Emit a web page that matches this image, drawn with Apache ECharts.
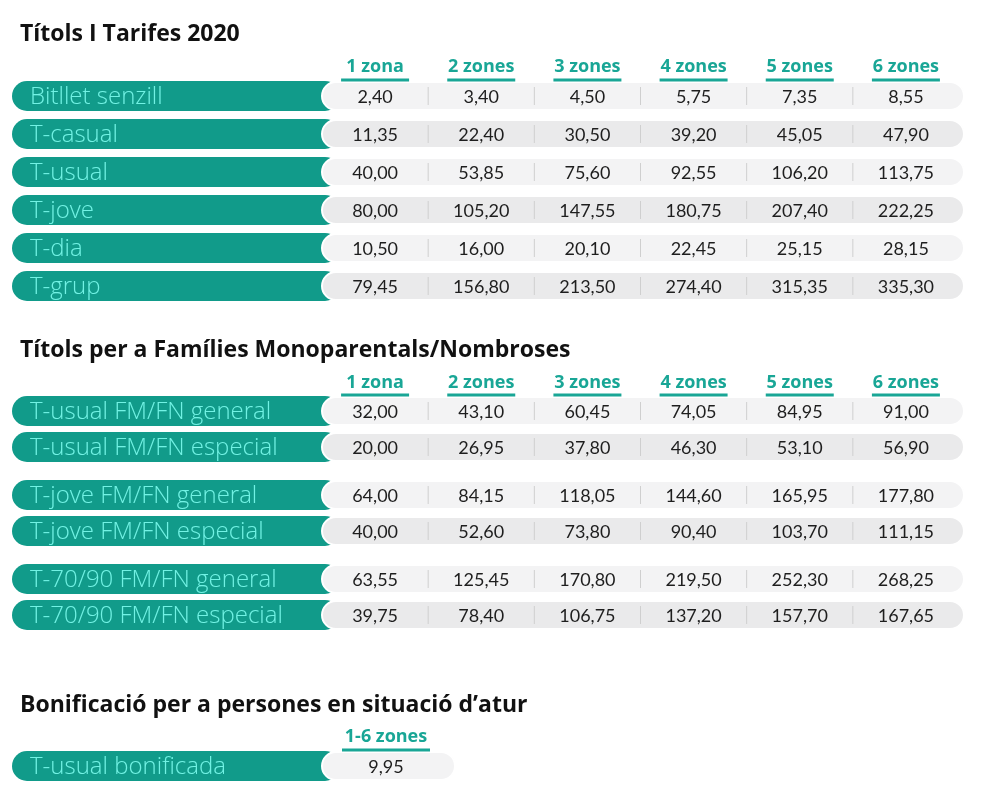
<!DOCTYPE html>
<html><head><meta charset="utf-8">
<script src="https://cdn.jsdelivr.net/npm/echarts@6/dist/echarts.min.js"></script>
<style>html,body{margin:0;padding:0;background:#fff}#c{width:1000px;height:791px}</style>
</head><body><div id="c"></div>
<script>
// ---------- data ----------
const titles = ['Títols I Tarifes 2020', 'Títols per a Famílies Monoparentals/Nombroses', 'Bonificació per a persones en situació d’atur'];
const zones = ['1 zona', '2 zones', '3 zones', '4 zones', '5 zones', '6 zones'];
const zonesBonif = ['1-6 zones'];

const rowsTarifes = ['Bitllet senzill', 'T-casual', 'T-usual', 'T-jove', 'T-dia', 'T-grup'];
const bitlletSenzill = [2.40, 3.40, 4.50, 5.75, 7.35, 8.55];
const tCasual = [11.35, 22.40, 30.50, 39.20, 45.05, 47.90];
const tUsual = [40.00, 53.85, 75.60, 92.55, 106.20, 113.75];
const tJove = [80.00, 105.20, 147.55, 180.75, 207.40, 222.25];
const tDia = [10.50, 16.00, 20.10, 22.45, 25.15, 28.15];
const tGrup = [79.45, 156.80, 213.50, 274.40, 315.35, 335.30];

const rowsUsualFM = ['T-usual FM/FN general', 'T-usual FM/FN especial'];
const usualFMGeneral = [32.00, 43.10, 60.45, 74.05, 84.95, 91.00];
const usualFMEspecial = [20.00, 26.95, 37.80, 46.30, 53.10, 56.90];

const rowsJoveFM = ['T-jove FM/FN general', 'T-jove FM/FN especial'];
const joveFMGeneral = [64.00, 84.15, 118.05, 144.60, 165.95, 177.80];
const joveFMEspecial = [40.00, 52.60, 73.80, 90.40, 103.70, 111.15];

const rows7090FM = ['T-70/90 FM/FN general', 'T-70/90 FM/FN especial'];
const t7090FMGeneral = [63.55, 125.45, 170.80, 219.50, 252.30, 268.25];
const t7090FMEspecial = [39.75, 78.40, 106.75, 137.20, 157.70, 167.65];

const rowsBonif = ['T-usual bonificada'];
const usualBonificada = [9.95];

// ---------- styles / layout ----------
const TEAL = '#119b8a';
const TEAL_HEAD = '#19a696';
const LABEL_COLOR = '#72f2e4';
const GREY_A = '#f3f3f4';
const GREY_B = '#eaeaeb';
const FONT = '"Open Sans", "Noto Sans", sans-serif';
const VFONT = 'Lato, "Noto Sans", sans-serif';

const blocks = [
  { rows: rowsTarifes, values: [bitlletSenzill, tCasual, tUsual, tJove, tDia, tGrup], cols: zones, header: true, uh: 34,
    grid: { left: 322, width: 637, top: 77, height: 228 }, margin: 10 },
  { rows: rowsUsualFM, values: [usualFMGeneral, usualFMEspecial], cols: zones, header: true, uh: 34,
    grid: { left: 322, width: 637, top: 393, height: 72 }, margin: 10 },
  { rows: rowsJoveFM, values: [joveFMGeneral, joveFMEspecial], cols: zones, header: false, uh: 34,
    grid: { left: 322, width: 637, top: 477, height: 72 } },
  { rows: rows7090FM, values: [t7090FMGeneral, t7090FMEspecial], cols: zones, header: false, uh: 34,
    grid: { left: 322, width: 637, top: 561, height: 72 } },
  { rows: rowsBonif, values: [usualBonificada], cols: zonesBonif, header: true, uh: 44,
    grid: { left: 322, width: 128, top: 748, height: 36 }, margin: 11 }
];

const fmt = v => v.toFixed(2).replace('.', ',');
const PILL_H = 30;

const option = {
  animation: false,
  backgroundColor: '#ffffff',
  title: [
    { text: titles[0], left: 20, top: 23, padding: 0 },
    { text: titles[1], left: 20, top: 339, padding: 0 },
    { text: titles[2], left: 20, top: 694, padding: 0 }
  ].map(t => Object.assign(t, { textStyle: { fontFamily: FONT, fontWeight: 'bold', fontSize: 23, color: '#111' } })),
  grid: [], xAxis: [], yAxis: [], series: []
};

blocks.forEach((b, gi) => {
  option.grid.push(Object.assign({ containLabel: false }, b.grid));
  option.xAxis.push({
    type: 'category', gridIndex: gi, data: b.cols, position: 'top',
    axisLine: { show: false }, axisTick: { show: false }, splitLine: { show: false },
    axisLabel: { show: b.header, margin: b.margin || 10, verticalAlign: 'middle', color: TEAL_HEAD,
      fontFamily: FONT, fontWeight: 'bold', fontSize: 18, interval: 0 }
  });
  option.yAxis.push({ type: 'category', gridIndex: gi, data: b.rows, inverse: true, show: false });

  option.series.push({
    type: 'custom', xAxisIndex: gi, yAxisIndex: gi, silent: true, z: 1,
    data: b.rows.map((r, i) => [0, i]),
    renderItem: function (params, api) {
      const cs = params.coordSys;
      const idx = api.value(1);
      const cy = api.coord([0, idx])[1];
      return { type: 'group', children: [
        { type: 'rect', shape: { x: 12, y: cy - PILL_H / 2, width: cs.x + 18 - 12, height: PILL_H, r: PILL_H / 2 },
          style: { fill: TEAL } },
        { type: 'text', style: { x: 30, y: cy + 1, text: b.rows[idx], fill: LABEL_COLOR,
          font: '300 24px ' + FONT, align: 'left', verticalAlign: 'middle' } },
        { type: 'rect', shape: { x: cs.x, y: cy - PILL_H / 2 + 1, width: cs.width + 5, height: PILL_H - 2, r: (PILL_H - 2) / 2 },
          style: { fill: idx % 2 ? GREY_B : GREY_A, stroke: '#ffffff', lineWidth: 2 } }
      ] };
    }
  });

  const cells = [];
  b.values.forEach((arr, i) => arr.forEach((v, j) => cells.push([j, i, v])));
  option.series.push({
    type: 'custom', xAxisIndex: gi, yAxisIndex: gi, silent: true, z: 2,
    data: cells,
    renderItem: function (params, api) {
      const col = api.value(0), row = api.value(1), v = api.value(2);
      const p = api.coord([col, row]);
      const w = params.coordSys.width / b.cols.length;
      const ch = [
        { type: 'text', style: { x: p[0], y: p[1] + 1, text: fmt(v), fill: '#1e1e1e',
          font: '400 18px ' + VFONT, align: 'center', verticalAlign: 'middle' } }
      ];
      if (col > 0) ch.push({ type: 'line', shape: { x1: p[0] - w / 2, y1: p[1] - 9, x2: p[0] - w / 2, y2: p[1] + 9 },
        style: { stroke: '#cfcfcf', lineWidth: 1 } });
      if (row === 0 && b.header) ch.push({ type: 'line', shape: { x1: p[0] - b.uh, y1: p[1] - 16, x2: p[0] + b.uh, y2: p[1] - 16 },
        style: { stroke: TEAL_HEAD, lineWidth: 3 } });
      return { type: 'group', children: ch };
    }
  });
});

const chart = echarts.init(document.getElementById('c'), null, { renderer: 'canvas' });
chart.setOption(option);
</script>
</body></html>
